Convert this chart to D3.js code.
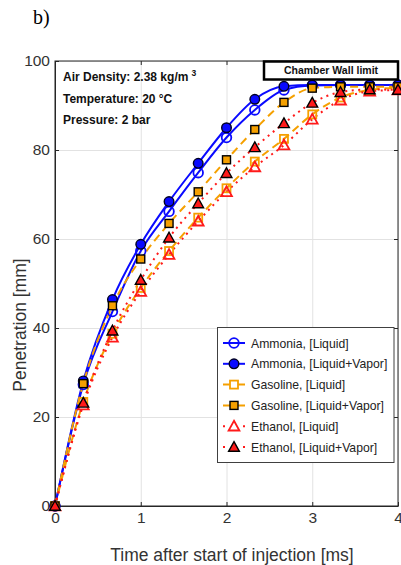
<!DOCTYPE html>
<html>
<head>
<meta charset="utf-8">
<script src="https://cdn.jsdelivr.net/npm/d3@7"></script>
<style>
html,body{margin:0;padding:0;background:#fff;}
svg{display:block;}
</style>
</head>
<body>
<script>
// ---- data ----
const times = [0, 0.33, 0.67, 1.0, 1.33, 1.67, 2.0, 2.33, 2.67, 3.0, 3.33, 3.67, 4.0];
const ammoniaLiquid      = [0, 27.3, 43.7, 57.3, 66.2, 74.9, 82.8, 89.0, 93.5, 94.5, 94.6, 94.6, 94.6];
const ammoniaLiquidVapor = [0, 28.1, 46.4, 58.8, 68.4, 77.0, 85.0, 91.4, 94.3, 94.6, 94.6, 94.6, 94.6];
const gasolineLiquid      = [0, 23.4, 38.7, 49.0, 57.3, 64.8, 71.4, 77.4, 82.5, 88.0, 91.8, 93.5, 94.0];
const gasolineLiquidVapor = [0, 27.5, 45.0, 55.5, 63.5, 70.6, 77.8, 84.6, 90.7, 93.9, 94.2, 94.2, 94.2];
const ethanolLiquid      = [0, 22.7, 37.9, 48.2, 56.5, 64.0, 70.6, 76.2, 81.1, 86.9, 91.2, 93.2, 93.5];
const ethanolLiquidVapor = [0, 23.2, 39.4, 50.8, 60.3, 68.0, 74.8, 80.6, 86.0, 90.6, 93.0, 93.6, 93.5];
const seriesNames = ["Ammonia, [Liquid]", "Ammonia, [Liquid+Vapor]", "Gasoline, [Liquid]",
                     "Gasoline, [Liquid+Vapor]", "Ethanol, [Liquid]", "Ethanol, [Liquid+Vapor]"];
const xTicks = [0, 1, 2, 3, 4];
const yTicks = [0, 20, 40, 60, 80, 100];
const xTitle = "Time after start of injection [ms]";
const yTitle = "Penetration [mm]";
const notes = ["Air Density: 2.38 kg/m", "Temperature: 20 °C", "Pressure: 2 bar"];
const limitLabel = "Chamber Wall limit";
const panelLabel = "b)";

// ---- styles ----
const BLUE = "#0a0aff", ORANGE = "#f5a000", RED = "#ff1a1a";
const styles = [
  {color: BLUE,   dash: null,    marker: "circle",   filled: false},
  {color: BLUE,   dash: null,    marker: "circle",   filled: true},
  {color: ORANGE, dash: "8,5",   marker: "square",   filled: false},
  {color: ORANGE, dash: "8,5",   marker: "square",   filled: true},
  {color: RED,    dash: "2,4.5", marker: "triangle", filled: false},
  {color: RED,    dash: "2,4.5", marker: "triangle", filled: true}
];
const seriesValues = [ammoniaLiquid, ammoniaLiquidVapor, gasolineLiquid, gasolineLiquidVapor, ethanolLiquid, ethanolLiquidVapor];

const W = 401, H = 565;
const L = 55, R = 398, T = 61, B = 506;
const svg = d3.select("body").append("svg").attr("width", W).attr("height", H);

const x = d3.scaleLinear().domain([0, 4]).range([L, R]);
const y = d3.scaleLinear().domain([0, 100]).range([B, T]);

const FONT = "Arial, 'Liberation Sans', sans-serif";

// grid
svg.append("g").attr("transform", `translate(0,${B})`)
  .call(d3.axisBottom(x).tickValues(xTicks).tickSize(-(B - T)).tickFormat(""))
  .call(g => g.select(".domain").remove())
  .call(g => g.selectAll("line").attr("stroke", "#e2e2e2").attr("stroke-width", 1));
svg.append("g").attr("transform", `translate(${L},0)`)
  .call(d3.axisLeft(y).tickValues(yTicks).tickSize(-(R - L)).tickFormat(""))
  .call(g => g.select(".domain").remove())
  .call(g => g.selectAll("line").attr("stroke", "#e2e2e2").attr("stroke-width", 1));

// frame
svg.append("rect").attr("x", L).attr("y", T).attr("width", R - L).attr("height", B - T)
  .attr("fill", "none").attr("stroke", "#262626").attr("stroke-width", 1);

// axes
const xAxis = svg.append("g").attr("transform", `translate(0,${B})`)
  .call(d3.axisBottom(x).tickValues(xTicks).tickSizeInner(-4).tickSizeOuter(0).tickPadding(6).tickFormat(d3.format("d")));
const yAxis = svg.append("g").attr("transform", `translate(${L},0)`)
  .call(d3.axisLeft(y).tickValues(yTicks).tickSizeInner(-4).tickSizeOuter(0).tickPadding(5).tickFormat(d3.format("d")));
[xAxis, yAxis].forEach(a => {
  a.select(".domain").attr("stroke", "#262626");
  a.selectAll(".tick line").attr("stroke", "#262626");
  a.selectAll("text").attr("font-family", FONT).attr("font-size", 15.5).attr("fill", "#333");
});
// top/right ticks
svg.append("g").attr("transform", `translate(0,${T})`)
  .call(d3.axisTop(x).tickValues(xTicks).tickSizeInner(-4).tickSizeOuter(0).tickFormat(""))
  .call(g => g.select(".domain").remove())
  .call(g => g.selectAll("line").attr("stroke", "#262626"));
svg.append("g").attr("transform", `translate(${R},0)`)
  .call(d3.axisRight(y).tickValues(yTicks).tickSizeInner(-4).tickSizeOuter(0).tickFormat(""))
  .call(g => g.select(".domain").remove())
  .call(g => g.selectAll("line").attr("stroke", "#262626"));

// titles
svg.append("text").attr("x", 232).attr("y", 561).attr("text-anchor", "middle")
  .attr("font-family", FONT).attr("font-size", 17.5).attr("fill", "#333").text(xTitle);
svg.append("text").attr("transform", "translate(26,325) rotate(-90)").attr("text-anchor", "middle")
  .attr("font-family", FONT).attr("font-size", 17.5).attr("fill", "#333").text(yTitle);
svg.append("text").attr("x", 33).attr("y", 24).attr("font-family", "'Liberation Serif', 'Times New Roman', serif")
  .attr("font-size", 20).attr("fill", "#000").text(panelLabel);

// markers
function drawMarker(g, st, cx, cy) {
  const fill = st.filled ? st.color : "none";
  const stroke = st.filled ? "#000" : st.color;
  const sw = st.filled ? 1.4 : 1.8;
  if (st.marker === "circle") {
    g.append("circle").attr("cx", cx).attr("cy", cy).attr("r", 4.8)
      .attr("fill", fill).attr("stroke", st.filled ? "#000022" : st.color).attr("stroke-width", sw);
  } else if (st.marker === "square") {
    g.append("rect").attr("x", cx - 4).attr("y", cy - 4).attr("width", 8).attr("height", 8)
      .attr("fill", fill).attr("stroke", stroke).attr("stroke-width", sw);
  } else {
    const s = 5.4;
    g.append("path").attr("d", `M${cx},${cy - s}L${cx + s},${cy + s * 0.8}L${cx - s},${cy + s * 0.8}Z`)
      .attr("fill", fill).attr("stroke", stroke).attr("stroke-width", sw).attr("stroke-linejoin", "miter");
  }
}

const line = d3.line().x(d => x(d[0])).y(d => y(d[1])).curve(d3.curveMonotoneX);
const plot = svg.append("g");
seriesValues.forEach((vals, i) => {
  const st = styles[i];
  const pts = times.map((t, j) => [t, vals[j]]);
  plot.append("path").attr("d", line(pts)).attr("fill", "none")
    .attr("stroke", st.color).attr("stroke-width", 2)
    .attr("stroke-dasharray", st.dash);
});
seriesValues.forEach((vals, i) => {
  const st = styles[i];
  const g = plot.append("g");
  times.forEach((t, j) => drawMarker(g, st, x(t), y(vals[j])));
});

// annotations
const ann = svg.append("g").attr("font-family", FONT).attr("font-weight", "bold").attr("font-size", 12).attr("fill", "#111");
notes.forEach((n, i) => {
  const t = ann.append("text").attr("x", 63).attr("y", [81, 102.5, 124][i]).text(n);
  if (i === 0) t.append("tspan").attr("dx", 3).attr("dy", -5).attr("font-size", 8.5).text("3");
});

// chamber wall limit box
svg.append("rect").attr("x", 264).attr("y", 61.5).attr("width", 134).attr("height", 18)
  .attr("fill", "#fff").attr("stroke", "#000").attr("stroke-width", 2.5);
svg.append("text").attr("x", 331).attr("y", 74).attr("text-anchor", "middle")
  .attr("font-family", FONT).attr("font-weight", "bold").attr("font-size", 10.5).attr("fill", "#111").text(limitLabel);

// legend
const lg = svg.append("g");
lg.append("rect").attr("x", 217.5).attr("y", 327.5).attr("width", 176.5).attr("height", 135)
  .attr("fill", "#fff").attr("stroke", "#404040").attr("stroke-width", 1);
seriesNames.forEach((name, i) => {
  const st = styles[i];
  const cy = 343 + i * 20.8;
  lg.append("line").attr("x1", 223).attr("x2", 245).attr("y1", cy).attr("y2", cy)
    .attr("stroke", st.color).attr("stroke-width", 2)
    .attr("stroke-dasharray", st.marker === "square" ? "7,8,7" : (st.marker === "triangle" ? "2,18,2" : null));
  drawMarker(lg, st, 234, cy);
  lg.append("text").attr("x", 251).attr("y", cy + 4.5).attr("font-family", FONT).attr("font-size", 12.2)
    .attr("fill", "#222").text(name);
});
</script>
</body>
</html>
